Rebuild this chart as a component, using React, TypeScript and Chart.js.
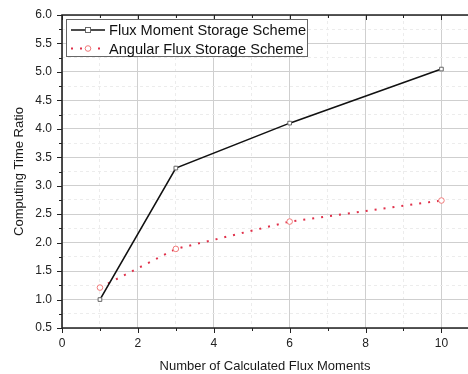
import React, { useEffect, useRef } from 'react';
import { Chart, registerables } from 'chart.js';

Chart.register(...registerables);

const xValues = [1, 3, 6, 10];
const fluxMomentRatio = [1.0, 3.31, 4.1, 5.05];
const angularFluxRatio = [1.21, 1.89, 2.37, 2.74];
const seriesLabels = ['Flux Moment Storage Scheme', 'Angular Flux Storage Scheme'];
const xTitle = 'Number of Calculated Flux Moments';
const yTitle = 'Computing Time Ratio';

const FONT = '"Liberation Sans", Arial, sans-serif';
const RED = '#e0304a';
const RED_MARK = '#f07a7a';

const isMult = (v: number, m: number) => Math.abs(v / m - Math.round(v / m)) < 1e-6;

const framePlugin = {
  id: 'frame',
  afterDraw(chart: any) {
    const { ctx, chartArea } = chart;
    const { left, right, top, bottom } = chartArea;
    const x = chart.scales.x;
    const y = chart.scales.y;
    ctx.save();
    // ticks
    ctx.strokeStyle = '#222';
    ctx.lineWidth = 1;
    ctx.beginPath();
    y.ticks.forEach((t: any) => {
      const py = Math.round(y.getPixelForValue(t.value)) + 0.5;
      const len = isMult(t.value, 0.5) ? 5 : 3;
      ctx.moveTo(left, py);
      ctx.lineTo(left - len, py);
    });
    x.ticks.forEach((t: any) => {
      const px = Math.round(x.getPixelForValue(t.value)) + 0.5;
      const len = isMult(t.value, 2) ? 5 : 3;
      ctx.moveTo(px, bottom);
      ctx.lineTo(px, bottom + len);
      ctx.moveTo(px, top);
      ctx.lineTo(px, top + len);
    });
    ctx.stroke();
    // frame
    ctx.lineWidth = 1.6;
    ctx.beginPath();
    ctx.moveTo(right, top);
    ctx.lineTo(left, top);
    ctx.lineTo(left, bottom);
    ctx.lineTo(right, bottom);
    ctx.stroke();

    // legend
    ctx.font = `14.6px ${FONT}`;
    const textX = 109;
    const tw = Math.max(ctx.measureText(seriesLabels[0]).width, ctx.measureText(seriesLabels[1]).width);
    const bx = 66.5, by = 19.5, bh = 37;
    const bw = Math.round(textX + tw + 1 - bx);
    ctx.fillStyle = '#ffffff';
    ctx.fillRect(bx, by, bw, bh);
    ctx.strokeStyle = '#666';
    ctx.lineWidth = 1;
    ctx.strokeRect(bx, by, bw, bh);
    const rows = [30, 48.5];
    const x0 = 71, x1 = 105, mx = 88;
    // row 1
    ctx.beginPath();
    ctx.strokeStyle = '#111';
    ctx.lineWidth = 1.6;
    ctx.moveTo(x0, rows[0]);
    ctx.lineTo(x1, rows[0]);
    ctx.stroke();
    ctx.fillStyle = '#fff';
    ctx.strokeStyle = '#666';
    ctx.lineWidth = 1;
    ctx.fillRect(mx - 2.5, rows[0] - 2.5, 5, 5);
    ctx.strokeRect(mx - 2.5, rows[0] - 2.5, 5, 5);
    // row 2
    ctx.beginPath();
    ctx.strokeStyle = RED;
    ctx.lineWidth = 2;
    ctx.setLineDash([2, 7]);
    ctx.moveTo(x0, rows[1]);
    ctx.lineTo(x1, rows[1]);
    ctx.stroke();
    ctx.setLineDash([]);
    ctx.beginPath();
    ctx.fillStyle = '#fff';
    ctx.strokeStyle = RED_MARK;
    ctx.lineWidth = 1;
    ctx.arc(mx, rows[1], 2.8, 0, Math.PI * 2);
    ctx.fill();
    ctx.stroke();
    ctx.fillStyle = '#111';
    ctx.textAlign = 'left';
    ctx.textBaseline = 'middle';
    ctx.fillText(seriesLabels[0], textX, rows[0] + 1);
    ctx.fillText(seriesLabels[1], textX, rows[1] + 1);
    ctx.restore();
  },
};

export default function App() {
  const ref = useRef<HTMLCanvasElement>(null);
  useEffect(() => {
    if (!ref.current) return;
    const chart = new Chart(ref.current, {
      type: 'line',
      data: {
        datasets: [
          {
            label: seriesLabels[0],
            data: xValues.map((x, i) => ({ x, y: fluxMomentRatio[i] })),
            borderColor: '#111',
            borderWidth: 1.6,
            pointStyle: 'rect',
            pointRadius: 2.6,
            pointBorderColor: '#666',
            pointBackgroundColor: '#fff',
            pointBorderWidth: 1,
            tension: 0,
          },
          {
            label: seriesLabels[1],
            data: xValues.map((x, i) => ({ x, y: angularFluxRatio[i] })),
            borderColor: RED,
            borderWidth: 2,
            borderDash: [2, 7],
            pointStyle: 'circle',
            pointRadius: 2.8,
            pointBorderColor: RED_MARK,
            pointBackgroundColor: '#fff',
            pointBorderWidth: 1,
            tension: 0,
          },
        ],
      },
      options: {
        animation: false,
        responsive: false,
        devicePixelRatio: 1,
        layout: { autoPadding: false, padding: { top: 15, right: 0, left: 0, bottom: 0 } },
        plugins: { legend: { display: false }, tooltip: { enabled: false } },
        scales: {
          x: {
            type: 'linear',
            min: 0,
            max: 10.7,
            bounds: 'data',
            afterFit: (s: any) => { s.height = 46; s.paddingLeft = 0; s.paddingRight = 0; },
            ticks: {
              stepSize: 1,
              includeBounds: false,
              autoSkip: false,
              maxRotation: 0,
              padding: 8,
              color: '#222',
              font: { family: FONT, size: 12 },
              callback: (v: any) => (isMult(Number(v), 2) ? String(v) : ''),
            },
            grid: {
              drawTicks: false,
              color: (c: any) => (c.tick && isMult(c.tick.value, 2) ? '#cfcfcf' : '#ececec'),
              lineWidth: 1,
            },
            border: {
              display: false,
              dash: (c: any) => (c.tick && !isMult(c.tick.value, 2) ? [3, 3] : []),
            },
            title: {
              display: true,
              text: xTitle,
              color: '#1a1a1a',
              font: { family: FONT, size: 13 },
              padding: { top: 0, bottom: 0 },
            },
          },
          y: {
            type: 'linear',
            min: 0.5,
            max: 6.0,
            afterFit: (s: any) => { s.width = 62; s.paddingTop = 0; s.paddingBottom = 0; },
            ticks: {
              stepSize: 0.25,
              autoSkip: false,
              padding: 10,
              color: '#222',
              font: { family: FONT, size: 12 },
              callback: (v: any) => (isMult(Number(v), 0.5) ? Number(v).toFixed(1) : ''),
            },
            grid: {
              drawTicks: false,
              color: (c: any) => (c.tick && isMult(c.tick.value, 0.5) ? '#cfcfcf' : '#ececec'),
              lineWidth: 1,
            },
            border: {
              display: false,
              dash: (c: any) => (c.tick && !isMult(c.tick.value, 0.5) ? [3, 3] : []),
            },
            title: {
              display: true,
              text: yTitle,
              color: '#1a1a1a',
              font: { family: FONT, size: 13 },
              padding: { top: 12, bottom: 0 },
            },
          },
        },
      },
      plugins: [framePlugin],
    } as any);
    return () => chart.destroy();
  }, []);
  return (
    <div style={{ position: 'fixed', left: 0, top: 0, width: 468, height: 374, background: '#fff' }}>
      <canvas ref={ref} width={468} height={374} style={{ display: 'block', width: 468, height: 374 }} />
    </div>
  );
}
